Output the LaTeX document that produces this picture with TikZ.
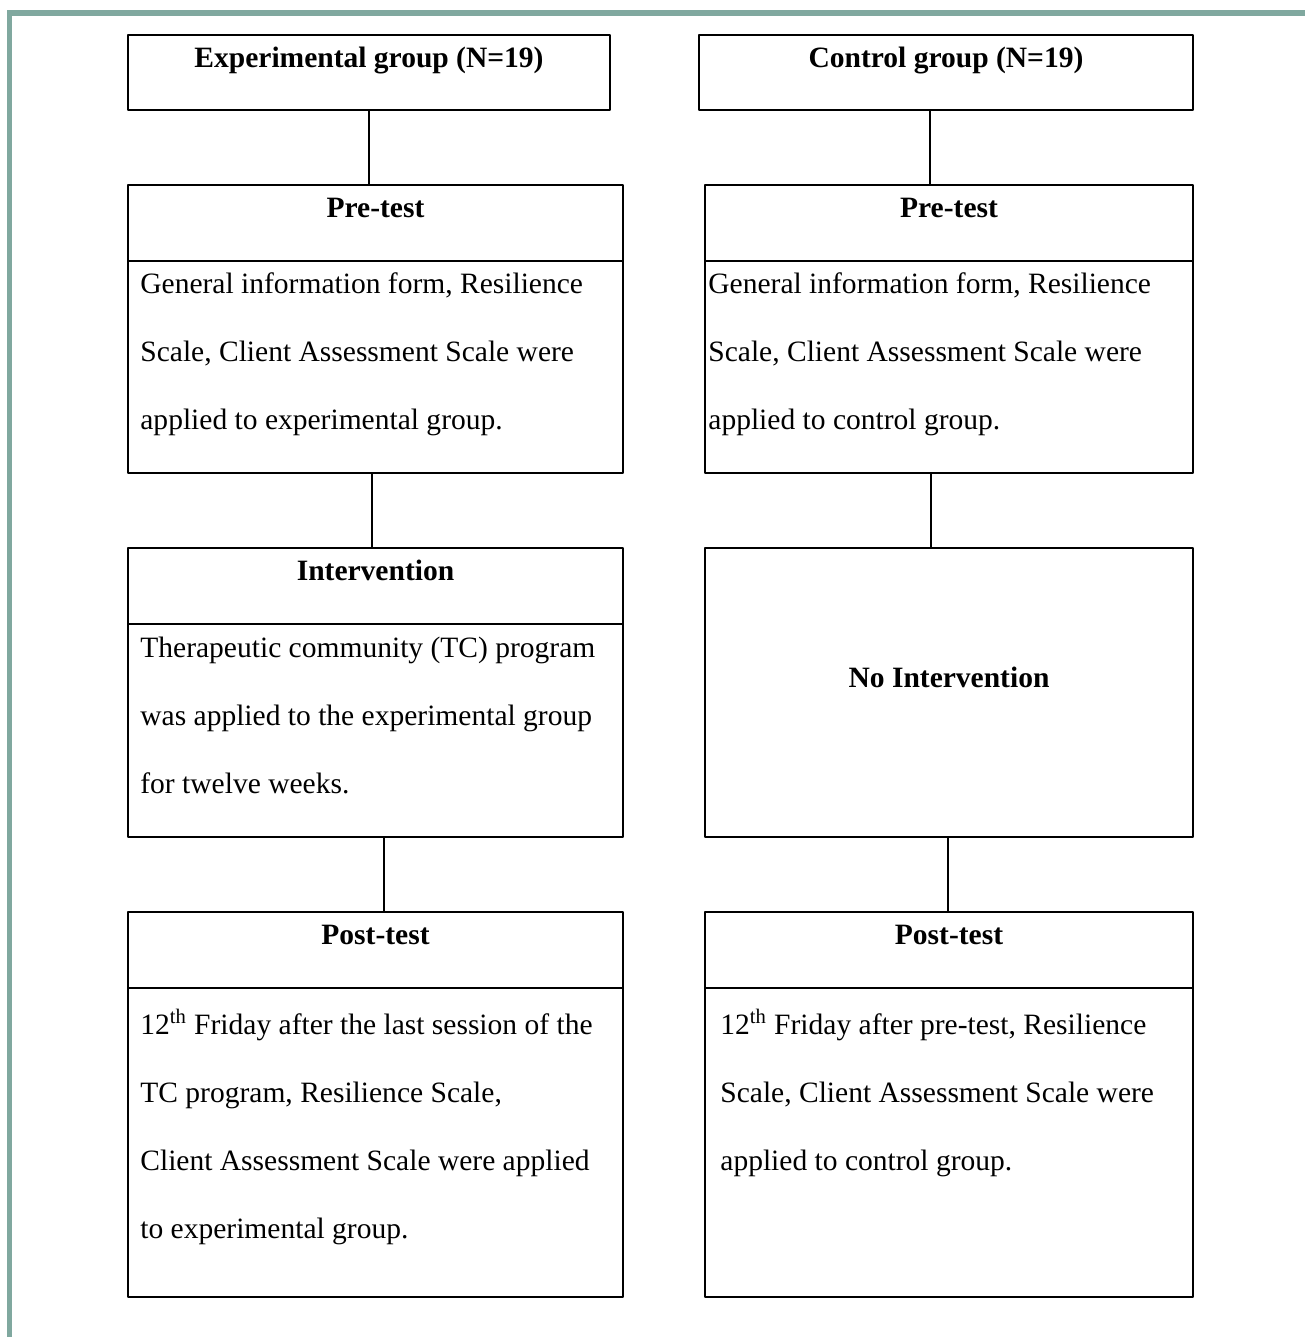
\documentclass[tikz,border=0pt]{standalone}
\usepackage{fontspec}
\setmainfont{Liberation Serif}
\usepackage{xcolor}
\usetikzlibrary{positioning, calc, fit}
\definecolor{frameteal}{HTML}{80A89F}

\begin{document}
\begin{tikzpicture}[x=0.02cm, y=-0.02cm, line cap=round, line join=round,
    box/.style={draw, line width=1.1pt, inner sep=0pt, fit={#1}},
    title/.style={anchor=base, inner sep=0pt, font=\fontsize{16.8pt}{20pt}\selectfont\bfseries},
    body/.style={anchor=base west, inner sep=0pt, align=left, font=\fontsize{16.8pt}{38.6pt}\selectfont},
    link/.style={line width=1.1pt}]
    % page and frame
    \useasboundingbox (0,0) rectangle (1305,1337);
    \fill[frameteal] (7,10) rectangle (1305,16);
    \fill[frameteal] (7,10) rectangle (12,1337);

    % experimental column
    \node[box={(128,35) (610,110)}] (expGroup) {};
    \node[box={(128,185) (623,261)}] (expPreHead) {};
    \node[box={(128,261) (623,473)}] (expPreBody) {};
    \node[box={(128,548) (623,624)}] (expIntHead) {};
    \node[box={(128,624) (623,837)}] (expIntBody) {};
    \node[box={(128,912) (623,988)}] (expPostHead) {};
    \node[box={(128,988) (623,1297)}] (expPostBody) {};

    \node[title] (expGroupTxt) at ($(expGroup.north)+(0,33)$) {Experimental group (N=19)};
    \node[title] (expPreTxt) at ($(expPreHead.north)+(0,33)$) {Pre-test};
    \node[title] (expIntTxt) at ($(expIntHead.north)+(0,33)$) {Intervention};
    \node[title] (expPostTxt) at ($(expPostHead.north)+(0,33)$) {Post-test};

    % body anchors sit on the last baseline
    \node[body] (expPreLines) at ($(expPreBody.north west)+(13,169)$)
        {General information form, Resilience\\Scale, Client Assessment Scale were\\applied to experimental group.};
    \node[body] (expIntLines) at ($(expIntBody.north west)+(13,170)$)
        {Therapeutic community (TC) program\\was applied to the experimental group\\for twelve weeks.};
    \node[body] (expPostLines) at ($(expPostBody.north west)+(13,251)$)
        {12\textsuperscript{th} Friday after the last session of the\\TC program, Resilience Scale,\\Client Assessment Scale were applied\\to experimental group.};

    % control column
    \node[box={(699,35) (1193,110)}] (ctlGroup) {};
    \node[box={(705,185) (1193,261)}] (ctlPreHead) {};
    \node[box={(705,261) (1193,473)}] (ctlPreBody) {};
    \node[box={(705,548) (1193,837)}] (ctlNone) {};
    \node[box={(705,912) (1193,988)}] (ctlPostHead) {};
    \node[box={(705,988) (1193,1297)}] (ctlPostBody) {};

    \node[title] (ctlGroupTxt) at ($(ctlGroup.north)+(0,33)$) {Control group (N=19)};
    \node[title] (ctlPreTxt) at ($(ctlPreHead.north)+(0,33)$) {Pre-test};
    \node[title] (ctlNoneTxt) at ($(ctlNone.center)+(0,-5)$) {No Intervention};
    \node[title] (ctlPostTxt) at ($(ctlPostHead.north)+(0,33)$) {Post-test};

    \node[body] (ctlPreLines) at ($(ctlPreBody.north west)+(4,169)$)
        {General information form, Resilience\\Scale, Client Assessment Scale were\\applied to control group.};
    \node[body] (ctlPostLines) at ($(ctlPostBody.north west)+(16,183)$)
        {12\textsuperscript{th} Friday after pre-test, Resilience\\Scale, Client Assessment Scale were\\applied to control group.};

    % connectors
    \coordinate (expLinkA) at (expGroup.south);
    \coordinate (expLinkB) at ($(expPreBody.south)+(-3.5,0)$);
    \coordinate (expLinkC) at ($(expIntBody.south)+(8.5,0)$);
    \coordinate (ctlLinkA) at ($(ctlGroup.south)+(-16,0)$);
    \coordinate (ctlLinkB) at ($(ctlPreBody.south)+(-18,0)$);
    \coordinate (ctlLinkC) at ($(ctlNone.south)+(-1,0)$);
    \draw[link] (expLinkA) -- (expLinkA |- expPreHead.north);
    \draw[link] (expLinkB) -- (expLinkB |- expIntHead.north);
    \draw[link] (expLinkC) -- (expLinkC |- expPostHead.north);
    \draw[link] (ctlLinkA) -- (ctlLinkA |- ctlPreHead.north);
    \draw[link] (ctlLinkB) -- (ctlLinkB |- ctlNone.north);
    \draw[link] (ctlLinkC) -- (ctlLinkC |- ctlPostHead.north);
\end{tikzpicture}
\end{document}
